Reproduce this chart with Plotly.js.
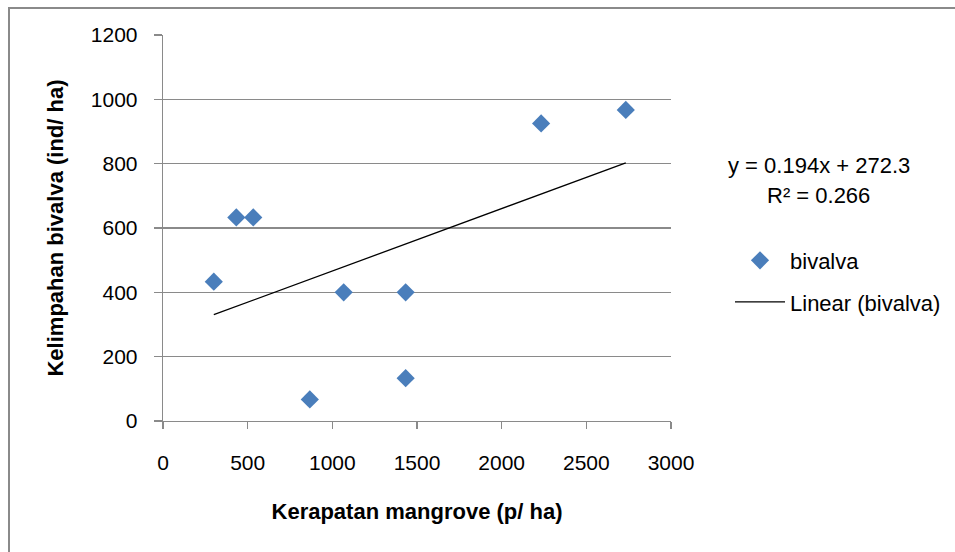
<!DOCTYPE html>
<html>
<head>
<meta charset="utf-8">
<script src="https://cdn.plot.ly/plotly-3.0.1.min.js"></script>
<style>
  html, body { margin: 0; padding: 0; background: #fff; }
  #wrap { position: relative; width: 955px; height: 552px; overflow: hidden; }
  #chart { position: absolute; left: 0; top: 0; width: 955px; height: 552px; }
  #frame { position: absolute; left: 8px; top: 7px; width: 960px; height: 560px;
           border-left: 2px solid #8a8a8a; border-top: 2px solid #8a8a8a; pointer-events: none; }
</style>
</head>
<body>
<div id="wrap">
  <div id="chart"></div>
  <div id="frame"></div>
</div>
<script>
// Data
const kerapatanMangrove = [300, 433, 533, 867, 1067, 1433, 1433, 2233, 2733];   // p/ha
const kelimpahanBivalva = [433, 633, 633, 67, 400, 400, 133, 925, 967];        // ind/ha
const seriesName = 'bivalva';
const trendName = 'Linear (bivalva)';
const trendSlope = 0.194;
const trendIntercept = 272.3;
const trendR2 = 0.266;
const xTicks = [0, 500, 1000, 1500, 2000, 2500, 3000];
const yTicks = [0, 200, 400, 600, 800, 1000, 1200];

const xMin = Math.min(...kerapatanMangrove);
const xMax = Math.max(...kerapatanMangrove);
const trendX = [xMin, xMax];
const trendY = trendX.map(v => trendSlope * v + trendIntercept);

const FONT = 'Liberation Sans, Arial, sans-serif';
const GRID = '#8a8a8a';
const TICK_SIZE = 21;
const TEXT_SIZE = 22;

const traces = [
  {
    type: 'scatter', mode: 'markers', name: seriesName,
    x: kerapatanMangrove, y: kelimpahanBivalva,
    marker: { symbol: 'diamond', size: 14, color: '#4A7EBB', line: { width: 0 } },
    legendgroup: 'a', cliponaxis: false
  },
  {
    type: 'scatter', mode: 'lines', name: trendName,
    x: trendX, y: trendY,
    line: { color: '#000000', width: 1.3 },
    legendgroup: 'b'
  }
];

const layout = {
  width: 955, height: 552,
  margin: { l: 163, r: 284, t: 35, b: 131, pad: 0, autoexpand: false },
  paper_bgcolor: '#ffffff', plot_bgcolor: '#ffffff',
  font: { family: FONT, size: TICK_SIZE, color: '#000' },
  showlegend: true,
  legend: {
    xref: 'container', yref: 'container',
    x: 0.7644, y: 0.566, xanchor: 'left', yanchor: 'top',
    bgcolor: 'rgba(0,0,0,0)', borderwidth: 0,
    font: { family: FONT, size: TEXT_SIZE, color: '#000' },
    itemwidth: 50, tracegroupgap: 10, traceorder: 'grouped'
  },
  xaxis: {
    range: [0, 3000], tickvals: xTicks, ticktext: xTicks.map(String),
    showgrid: false, zeroline: false,
    showline: true, linecolor: GRID, linewidth: 1.3,
    ticks: 'outside', ticklen: 7, tickcolor: GRID, tickwidth: 1.3,
    ticklabelstandoff: 15,
    tickfont: { family: FONT, size: TICK_SIZE, color: '#000' },
    title: { text: '<b>Kerapatan mangrove (p/ ha)</b>', font: { family: FONT, size: TEXT_SIZE, color: '#000' }, standoff: 31 },
    fixedrange: true
  },
  yaxis: {
    range: [0, 1200], tickvals: yTicks, ticktext: yTicks.map(String),
    showgrid: true, gridcolor: GRID, gridwidth: 1.3, zeroline: false,
    showline: true, linecolor: GRID, linewidth: 1.3,
    ticks: 'outside', ticklen: 8, tickcolor: GRID, tickwidth: 1.3,
    ticklabelstandoff: 12,
    tickfont: { family: FONT, size: TICK_SIZE, color: '#000' },
    title: { text: '<b>Kelimpahan bivalva (ind/ ha)</b>', font: { family: FONT, size: TEXT_SIZE, color: '#000' }, standoff: 21 },
    fixedrange: true
  },
  annotations: [
    {
      xref: 'paper', yref: 'paper', x: 1.291, y: 0.6624, xanchor: 'center', yanchor: 'middle',
      text: 'y = ' + trendSlope.toFixed(3) + 'x + ' + trendIntercept.toFixed(1),
      showarrow: false, font: { family: FONT, size: TEXT_SIZE, color: '#000' }
    },
    {
      xref: 'paper', yref: 'paper', x: 1.291, y: 0.5847, xanchor: 'center', yanchor: 'middle',
      text: 'R² = ' + trendR2.toFixed(3),
      showarrow: false, font: { family: FONT, size: TEXT_SIZE, color: '#000' }
    }
  ]
};

Plotly.newPlot('chart', traces, layout, { displayModeBar: false, staticPlot: true });
</script>
</body>
</html>
